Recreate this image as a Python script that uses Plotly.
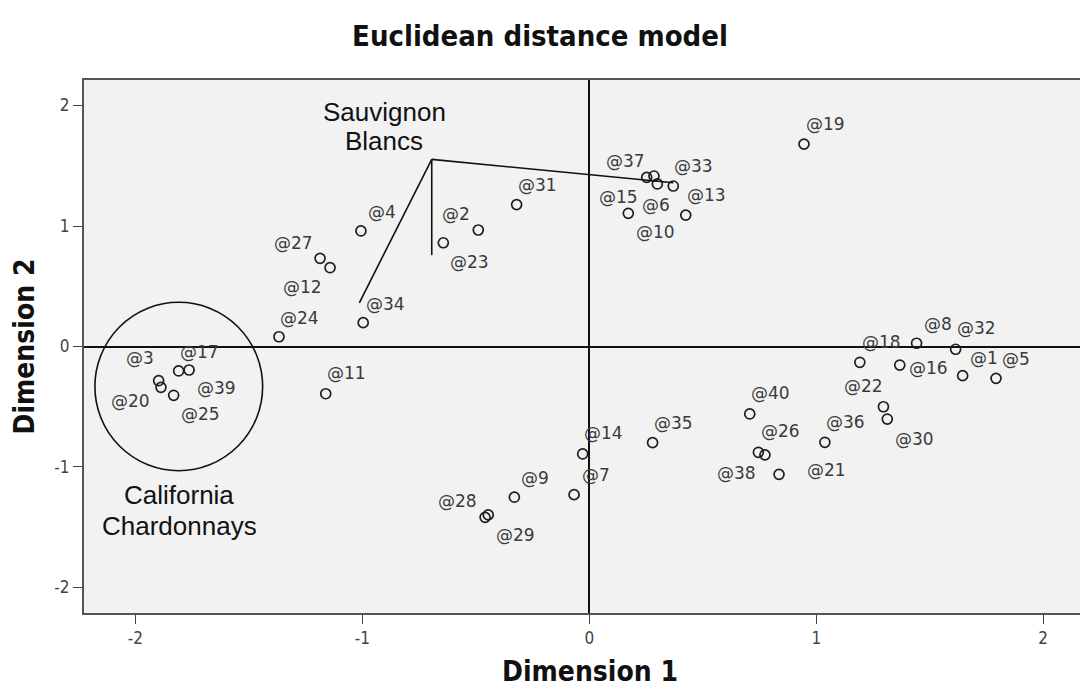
import plotly.graph_objects as go

# Two-dimensional MDS solution (Euclidean distance model) for 40 wines
wine_labels = ["@%d" % i for i in range(1, 41)]
dim1 = [1.645, -0.489, -1.897, -1.006, 1.792, 0.300, -0.067, 1.442, -0.330, 0.172,
        -1.161, -1.142, 0.425, -0.029, 0.253, 1.368, -1.809, 1.192, 0.946, -1.887,
        0.836, 1.296, -0.643, -1.367, -1.831, 0.745, -1.186, -0.459, -0.445, 1.313,
        -0.320, 1.614, 0.370, -0.996, 0.279, 1.038, 0.285, 0.774, -1.763, 0.707]
dim2 = [-0.242, 0.967, -0.284, 0.959, -0.264, 1.349, -1.230, 0.027, -1.251, 1.105,
        -0.392, 0.654, 1.091, -0.892, 1.404, -0.154, -0.203, -0.131, 1.680, -0.339,
        -1.061, -0.500, 0.861, 0.081, -0.405, -0.878, 0.732, -1.418, -1.398, -0.602,
        1.178, -0.023, 1.332, 0.198, -0.798, -0.795, 1.415, -0.900, -0.195, -0.560]

# pixel offsets of each point label from its marker (right, down)
label_dx = [21, -22, -19, 21, 20, -1, 22, 21, 21, 27,
            21, -28, 21, 21, -28, 29, 21, 22, 22, -30,
            47, -20, 26, 21, 27, 22, -27, -28, 27, 27,
            21, 21, 20, 22, 21, 21, -28, -28, 27, 21]
label_dy = [-18, -16, -23, -19, -19, 21, -20, -19, -19, 19,
            -21, 19, -20, -21, 20, 3, -19, -20, -20, 14,
            -4, -21, 19, -19, 19, -21, -15, -16, 20, 20,
            -20, -21, -20, -19, -20, -20, -15, 18, 18, -21]

x_ticks = [-2, -1, 0, 1, 2]
y_ticks = [-2, -1, 0, 1, 2]
x_tick_text = ["-2", "-1", "0", "1", "2"]
y_tick_text = ["-2", "-1", "0", "1", "2"]

# callout for the Sauvignon Blanc group: apex and the three leader ends
sb_apex = (-0.694, 1.553)
sb_ends = [(-1.013, 0.363), (-0.694, 0.759), (0.370, 1.359)]
sb_text = [("Sauvignon", -0.902, 1.947), ("Blancs", -0.903, 1.703)]

# ring around the California Chardonnay group
cc_ring = (-2.178, -1.031, -1.439, 0.367)
cc_text = [("California", -1.807, -1.232), ("Chardonnays", -1.807, -1.489)]

COND = "DejaVu Sans Condensed, Liberation Sans Narrow, DejaVu Sans, sans-serif"
LBL = "DejaVu Sans, sans-serif"
ARIAL = "Liberation Sans, Arial, sans-serif"

fig = go.Figure()
fig.add_trace(go.Scatter(
    x=dim1, y=dim2, mode="markers", text=wine_labels, hoverinfo="text",
    marker=dict(symbol="circle-open", size=10, color="#1e1e1e",
                line=dict(width=1.7, color="#1e1e1e")),
    showlegend=False,
))

annotations = []
for lab, xv, yv, dx, dy in zip(wine_labels, dim1, dim2, label_dx, label_dy):
    annotations.append(dict(
        x=xv, y=yv, xref="x", yref="y", text=lab, showarrow=False,
        xanchor="center", yanchor="middle", xshift=dx, yshift=-dy,
        font=dict(family=LBL, size=17, color="#3a3a3a"),
    ))
for txt, xv, yv in sb_text + cc_text:
    annotations.append(dict(
        x=xv, y=yv, xref="x", yref="y", text=txt, showarrow=False,
        xanchor="center", yanchor="middle",
        font=dict(family=ARIAL, size=26, color="#111111"),
    ))
annotations.append(dict(
    x=0.508, y=-0.109, xref="paper", yref="paper", text="<b>Dimension 1</b>",
    showarrow=False, xanchor="center", yanchor="middle",
    font=dict(family=COND, size=28, color="#111111"),
))
annotations.append(dict(
    x=-0.0602, y=0.5, xref="paper", yref="paper", text="<b>Dimension 2</b>",
    showarrow=False, xanchor="center", yanchor="middle", textangle=-90,
    font=dict(family=COND, size=28, color="#111111"),
))

shapes = []
for ex, ey in sb_ends:
    shapes.append(dict(type="line", xref="x", yref="y",
                       x0=sb_apex[0], y0=sb_apex[1], x1=ex, y1=ey,
                       line=dict(color="#111111", width=1.6)))
shapes.append(dict(type="circle", xref="x", yref="y",
                   x0=cc_ring[0], y0=cc_ring[1], x1=cc_ring[2], y1=cc_ring[3],
                   line=dict(color="#111111", width=1.6)))

axis_common = dict(
    showgrid=False, zeroline=True, zerolinecolor="#111111", zerolinewidth=1.6,
    showline=True, linecolor="#555555", linewidth=2,
    ticks="outside", ticklen=9, tickwidth=1.3, tickcolor="#444444",
    tickfont=dict(family=COND, size=17, color="#444444"),
)

fig.update_layout(
    width=1080, height=690,
    margin=dict(l=84, r=0, t=80, b=77),
    paper_bgcolor="white", plot_bgcolor="#f2f2f2",
    title=dict(text="<b>Euclidean distance model</b>", x=0.5, xanchor="center",
               y=1 - 36 / 690, yanchor="middle",
               font=dict(family=COND, size=29, color="#111111")),
    xaxis=dict(range=[-2.226, 2.162], tickvals=x_ticks, ticktext=x_tick_text,
               mirror=True, **axis_common),
    yaxis=dict(range=[-2.212, 2.212], tickvals=y_ticks, ticktext=y_tick_text,
               mirror=False, **axis_common),
    annotations=annotations,
    shapes=shapes,
)

fig.write_html("out.html")
